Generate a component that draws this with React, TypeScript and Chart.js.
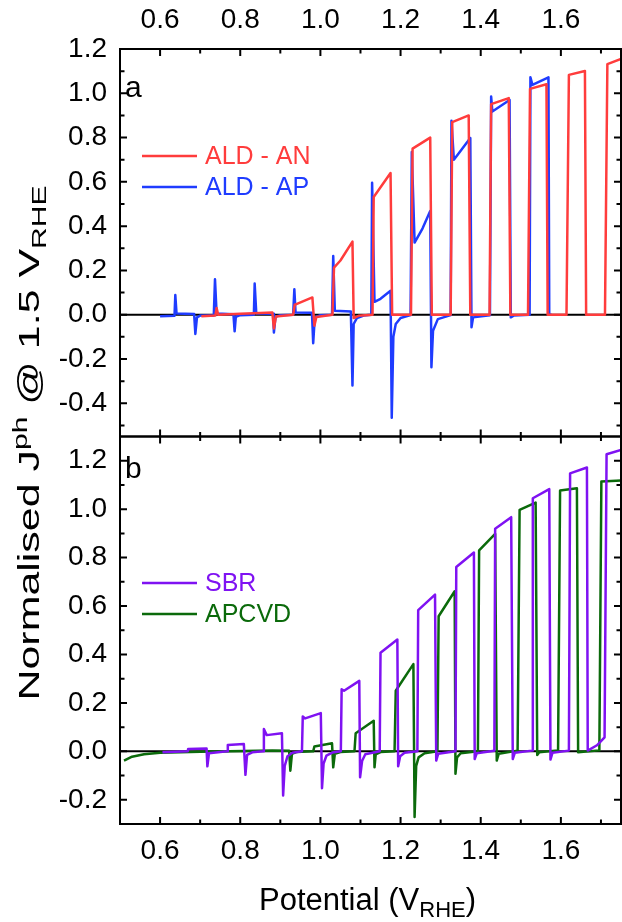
import React, { useEffect, useRef } from 'react';
import { Chart, registerables } from 'chart.js';

Chart.register(...registerables);

const FONT = '"Liberation Sans", Arial, Helvetica, sans-serif';

// ---- axes ----
const X_MIN = 0.5;
const X_MAX = 1.75;
const xMajorTicks = [0.6, 0.8, 1.0, 1.2, 1.4, 1.6];
const xMinorTicks = [0.5, 0.7, 0.9, 1.1, 1.3, 1.5, 1.7];

const YA_MIN = -0.55;
const YA_MAX = 1.2;
const yaMajorTicks = [-0.4, -0.2, 0, 0.2, 0.4, 0.6, 0.8, 1.0, 1.2];
const yaMinorTicks = [-0.5, -0.3, -0.1, 0.1, 0.3, 0.5, 0.7, 0.9, 1.1];

const YB_MIN = -0.3;
const YB_MAX = 1.3;
const ybMajorTicks = [-0.2, 0, 0.2, 0.4, 0.6, 0.8, 1.0, 1.2];
const ybMinorTicks = [-0.1, 0.1, 0.3, 0.5, 0.7, 0.9, 1.1];

// ---- panel a : ALD - AN (red) ----
const anV = [0.703, 0.738, 0.741, 0.745, 0.800, 0.850, 0.880, 0.884, 0.889, 0.932, 0.936, 0.940, 0.980, 0.985, 0.990,
  1.030, 1.034, 1.050, 1.080, 1.083, 1.095, 1.130, 1.133, 1.175, 1.179, 1.226, 1.230, 1.274, 1.278, 1.325, 1.329, 1.370,
  1.374, 1.422, 1.426, 1.470, 1.474, 1.518, 1.523, 1.564, 1.567, 1.614, 1.620, 1.660, 1.663, 1.710, 1.716, 1.750];
const anJ = [-0.007, -0.004, 0.030, 0.000, 0.004, 0.008, 0.010, -0.062, -0.008, 0.000, 0.045, 0.048, 0.078, -0.050, -0.010,
  0.000, 0.213, 0.245, 0.330, -0.015, -0.005, 0.000, 0.532, 0.640, 0.000, 0.000, 0.750, 0.800, 0.000, 0.000, 0.870, 0.900,
  0.000, 0.000, 0.951, 0.978, 0.000, 0.000, 1.020, 1.041, 0.000, 0.000, 1.083, 1.101, 0.000, 0.000, 1.132, 1.155];

// ---- panel a : ALD - AP (blue) ----
const apV = [0.600, 0.636, 0.638, 0.641, 0.685, 0.688, 0.692, 0.700, 0.734, 0.737, 0.741, 0.783, 0.786, 0.789, 0.800,
  0.834, 0.836, 0.840, 0.882, 0.884, 0.888, 0.900, 0.932, 0.935, 0.938, 0.979, 0.982, 0.986, 1.000, 1.029, 1.032, 1.036,
  1.076, 1.080, 1.083, 1.091, 1.108, 1.127, 1.129, 1.135, 1.150, 1.175, 1.178, 1.182, 1.188, 1.200, 1.225, 1.228, 1.235,
  1.255, 1.274, 1.277, 1.281, 1.293, 1.325, 1.327, 1.333, 1.350, 1.374, 1.377, 1.381, 1.423, 1.426, 1.429, 1.472, 1.475,
  1.482, 1.522, 1.524, 1.529, 1.569, 1.571, 1.577];
const apJ = [-0.007, -0.005, 0.089, 0.006, 0.003, -0.087, -0.012, -0.004, -0.003, 0.160, 0.006, 0.002, -0.075, -0.009, -0.002,
  0.000, 0.141, 0.006, 0.004, -0.080, -0.009, -0.002, 0.000, 0.115, 0.010, 0.009, -0.129, -0.012, -0.002, 0.000, 0.265, 0.018,
  0.014, -0.320, -0.042, -0.015, -0.004, 0.000, 0.596, 0.058, 0.072, 0.108, -0.465, -0.100, -0.042, -0.015, -0.002, 0.735, 0.326,
  0.390, 0.468, -0.237, -0.072, -0.020, -0.002, 0.876, 0.700, 0.740, 0.798, -0.057, -0.012, -0.002, 0.985, 0.918, 0.970, -0.012,
  -0.004, 0.000, 1.072, 1.038, 1.072, 0.000, 0.000];

// ---- panel b : SBR (purple) ----
const sbrV = [0.606, 0.669, 0.670, 0.716, 0.718, 0.722, 0.767, 0.769, 0.809, 0.813, 0.817, 0.830, 0.857, 0.859, 0.866, 0.904,
  0.907, 0.911, 0.918, 0.930, 0.954, 0.956, 0.962, 1.001, 1.004, 1.008, 1.015, 1.030, 1.051, 1.053, 1.059, 1.097, 1.099, 1.104,
  1.112, 1.148, 1.150, 1.192, 1.194, 1.199, 1.210, 1.242, 1.244, 1.286, 1.289, 1.294, 1.337, 1.339, 1.383, 1.385, 1.390, 1.434,
  1.436, 1.476, 1.480, 1.485, 1.528, 1.530, 1.571, 1.574, 1.579, 1.620, 1.623, 1.665, 1.667, 1.690, 1.709, 1.714, 1.750];
const sbrJ = [-0.004, 0.000, 0.010, 0.012, -0.062, -0.008, 0.000, 0.026, 0.030, -0.097, -0.015, -0.004, 0.000, 0.092, 0.067, 0.075,
  -0.182, -0.060, -0.020, -0.006, 0.000, 0.144, 0.136, 0.158, -0.152, -0.050, -0.018, -0.005, 0.000, 0.256, 0.250, 0.291, -0.107, -0.040,
  -0.012, 0.000, 0.407, 0.462, -0.062, -0.020, -0.006, 0.000, 0.583, 0.647, -0.038, -0.010, 0.000, 0.761, 0.821, -0.032, -0.008, 0.002,
  0.919, 0.967, -0.032, -0.006, 0.003, 1.045, 1.083, -0.034, -0.006, 0.003, 1.148, 1.172, 0.003, 0.025, 0.058, 1.227, 1.244];

// ---- panel b : APCVD (green) ----
const apcvdV = [0.510, 0.530, 0.560, 0.600, 0.700, 0.880, 0.922, 0.925, 0.929, 0.940, 0.982, 0.985, 1.029, 1.032, 1.036, 1.050,
  1.085, 1.088, 1.133, 1.135, 1.138, 1.150, 1.185, 1.188, 1.232, 1.235, 1.239, 1.245, 1.260, 1.292, 1.295, 1.335, 1.337, 1.341,
  1.350, 1.393, 1.396, 1.436, 1.440, 1.445, 1.492, 1.497, 1.537, 1.541, 1.546, 1.593, 1.598, 1.640, 1.643, 1.696, 1.701, 1.750];
const apcvdJ = [-0.038, -0.022, -0.012, -0.006, -0.002, 0.003, 0.002, -0.080, -0.010, -0.003, 0.000, 0.020, 0.033, -0.066, -0.010, -0.003,
  0.000, 0.075, 0.126, -0.066, -0.012, -0.003, 0.000, 0.250, 0.360, -0.271, -0.060, -0.025, -0.008, 0.000, 0.558, 0.661, -0.093, -0.025,
  -0.008, 0.000, 0.830, 0.898, -0.038, -0.010, 0.003, 0.997, 1.027, -0.015, -0.004, 0.004, 1.077, 1.086, -0.004, 0.004, 1.114, 1.118];

const RED = '#ff3c3c';
const BLUE = '#1f3cff';
const PURPLE = '#7f12f2';
const GREEN = '#0b6a0b';

const toPts = (xs: number[], ys: number[]) => xs.map((x, i) => ({ x, y: ys[i] }));

type Seg = { t: string; s: number; dy: number };
function segWidth(ctx: CanvasRenderingContext2D, segs: Seg[]) {
  let w = 0;
  for (const g of segs) {
    ctx.font = `${g.s}px ${FONT}`;
    w += ctx.measureText(g.t).width;
  }
  return w;
}
function drawSegs(ctx: CanvasRenderingContext2D, segs: Seg[], x: number, y: number) {
  let cx = x;
  for (const g of segs) {
    ctx.font = `${g.s}px ${FONT}`;
    ctx.fillText(g.t, cx, y + g.dy);
    cx += ctx.measureText(g.t).width;
  }
}

const panelDefs = [
  { x: 'xa', y: 'ya', yMajor: yaMajorTicks, yMinor: yaMinorTicks, letter: 'a', letterX: 125, letterY: 97, legend: [0, 1], legendY: [156, 187] },
  { x: 'xb', y: 'yb', yMajor: ybMajorTicks, yMinor: ybMinorTicks, letter: 'b', letterX: 125, letterY: 478, legend: [2, 3], legendY: [583, 614] },
];

const framePlugin = {
  id: 'framePlugin',
  beforeDatasetsDraw(chart: any) {
    const ctx = chart.ctx as CanvasRenderingContext2D;
    ctx.save();
    ctx.strokeStyle = '#000';
    ctx.lineWidth = 2;
    for (const p of panelDefs) {
      const xs = chart.scales[p.x];
      const ys = chart.scales[p.y];
      const y0 = ys.getPixelForValue(0);
      ctx.beginPath();
      ctx.moveTo(xs.left, y0);
      ctx.lineTo(xs.right, y0);
      ctx.stroke();
    }
    ctx.restore();
  },
  afterDatasetsDraw(chart: any) {
    const ctx = chart.ctx as CanvasRenderingContext2D;
    ctx.save();
    ctx.strokeStyle = '#000';
    ctx.lineWidth = 2;
    const MAJ = 7;
    const MIN = 4.5;
    for (const p of panelDefs) {
      const xs = chart.scales[p.x];
      const ys = chart.scales[p.y];
      const L = xs.left, R = xs.right, T = ys.top, B = ys.bottom;
      ctx.beginPath();
      const xt = (vals: number[], len: number) => {
        for (const v of vals) {
          const px = xs.getPixelForValue(v);
          ctx.moveTo(px, T); ctx.lineTo(px, T + len);
          ctx.moveTo(px, B); ctx.lineTo(px, B - len);
        }
      };
      const yt = (vals: number[], len: number) => {
        for (const v of vals) {
          const py = ys.getPixelForValue(v);
          ctx.moveTo(L, py); ctx.lineTo(L + len, py);
          ctx.moveTo(R, py); ctx.lineTo(R - len, py);
        }
      };
      xt(xMajorTicks, MAJ); xt(xMinorTicks, MIN);
      yt(p.yMajor, MAJ); yt(p.yMinor, MIN);
      ctx.stroke();
      ctx.strokeRect(L, T, R - L, B - T);
    }
    ctx.restore();
  },
  afterDraw(chart: any) {
    const ctx = chart.ctx as CanvasRenderingContext2D;
    ctx.save();
    ctx.textAlign = 'left';
    ctx.textBaseline = 'alphabetic';
    for (const p of panelDefs) {
      // panel letter
      ctx.fillStyle = '#000';
      ctx.font = `30px ${FONT}`;
      ctx.fillText(p.letter, p.letterX, p.letterY);
      // legend
      p.legend.forEach((di, k) => {
        const ds = chart.data.datasets[di];
        const y = p.legendY[k];
        ctx.strokeStyle = ds.borderColor;
        ctx.lineWidth = 2.5;
        ctx.beginPath();
        ctx.moveTo(142, y);
        ctx.lineTo(197, y);
        ctx.stroke();
        ctx.fillStyle = ds.borderColor;
        ctx.font = `25px ${FONT}`;
        ctx.textBaseline = 'middle';
        ctx.fillText(ds.label, 205, y + 1);
        ctx.textBaseline = 'alphabetic';
      });
    }
    // x title
    ctx.fillStyle = '#000';
    const xa = chart.chartArea;
    const xSegs: Seg[] = [
      { t: 'Potential (V', s: 31, dy: 0 },
      { t: 'RHE', s: 22, dy: 7 },
      { t: ')', s: 31, dy: 0 },
    ];
    const xw = segWidth(ctx, xSegs);
    drawSegs(ctx, xSegs, (xa.left + xa.right) / 2 - xw / 2 - 3, 910);
    // y title (stretched along its baseline)
    const ySegs: Seg[] = [
      { t: 'Normalised J', s: 30, dy: 0 },
      { t: 'ph', s: 21, dy: -12 },
      { t: ' @ 1.5 V', s: 30, dy: 0 },
      { t: 'RHE', s: 21, dy: 7 },
    ];
    const yw = segWidth(ctx, ySegs);
    const target = 515;
    ctx.translate(39, 443);
    ctx.rotate(-Math.PI / 2);
    ctx.scale(target / yw, 1);
    drawSegs(ctx, ySegs, -yw / 2, 0);
    ctx.restore();
  },
};

const tickFont = { family: FONT, size: 28 };
const fmt = (v: any) => Number(v).toFixed(1);

const xScale = (position: 'top' | 'bottom', pad: number, h: number) => ({
  type: 'linear' as const,
  position,
  min: X_MIN,
  max: X_MAX,
  grid: { display: false, drawTicks: false },
  border: { display: false },
  ticks: { font: tickFont, color: '#000', padding: pad, autoSkip: false, maxRotation: 0, callback: fmt },
  afterBuildTicks: (s: any) => { s.ticks = xMajorTicks.map((value) => ({ value })); },
  afterFit: (s: any) => { s.height = h; },
});

const yScale = (min: number, max: number, ticks: number[], weight: number) => ({
  type: 'linear' as const,
  position: 'left' as const,
  stack: 'panels',
  stackWeight: 1,
  weight,
  min,
  max,
  grid: { display: false, drawTicks: false },
  border: { display: false },
  ticks: { font: tickFont, color: '#000', padding: 13, autoSkip: false, callback: fmt },
  afterBuildTicks: (s: any) => { s.ticks = ticks.map((value) => ({ value })); },
  afterFit: (s: any) => { s.width = 120; },
});

const lineDs = (label: string, xs: number[], ys: number[], color: string, xAxisID: string, yAxisID: string) => ({
  label,
  data: toPts(xs, ys),
  xAxisID,
  yAxisID,
  borderColor: color,
  backgroundColor: color,
  borderWidth: 2.5,
  pointRadius: 0,
  tension: 0,
  fill: false,
  borderJoinStyle: 'round' as const,
});

export default function App() {
  const ref = useRef<HTMLCanvasElement>(null);
  useEffect(() => {
    document.body.style.margin = '0';
    const chart = new Chart(ref.current as HTMLCanvasElement, {
      type: 'line',
      data: {
        datasets: [
          lineDs('ALD - AN', anV, anJ, RED, 'xa', 'ya'),
          lineDs('ALD - AP', apV, apJ, BLUE, 'xa', 'ya'),
          lineDs('SBR', sbrV, sbrJ, PURPLE, 'xb', 'yb'),
          lineDs('APCVD', apcvdV, apcvdJ, GREEN, 'xb', 'yb'),
        ],
      },
      options: {
        responsive: false,
        animation: false,
        devicePixelRatio: 1,
        layout: { padding: { left: 0, right: 1, top: 0, bottom: 0 } },
        plugins: { legend: { display: false }, tooltip: { enabled: false } },
        scales: {
          xa: xScale('top', 12, 49),
          xb: xScale('bottom', 10, 98),
          ya: yScale(YA_MIN, YA_MAX, yaMajorTicks, 1),
          yb: yScale(YB_MIN, YB_MAX, ybMajorTicks, 0),
        } as any,
      },
      plugins: [framePlugin],
    });
    return () => chart.destroy();
  }, []);
  return <canvas ref={ref} width={622} height={922} style={{ display: 'block', width: 622, height: 922 }} />;
}
